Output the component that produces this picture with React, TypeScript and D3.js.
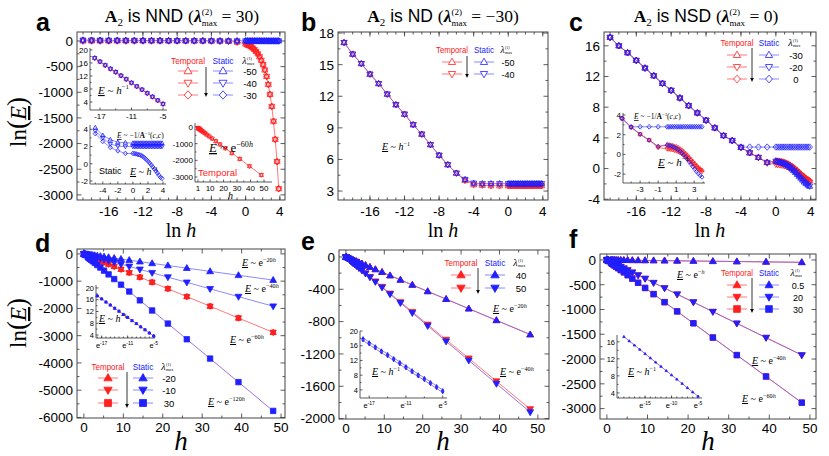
import React from "react";
import * as d3 from "d3";

// ---------- data ----------
const LN_H_FINE = [-19, -18, -17, -16, -15, -14, -13, -12, -11, -10, -9, -8, -7, -6, -5, -4, -3, -2, -1];
const LN_H_GRID = [0, 0.2, 0.41, 0.61, 0.81, 1.02, 1.22, 1.43, 1.63, 1.83, 2.04, 2.24, 2.45, 2.65, 2.85, 3.06, 3.26, 3.46, 3.67, 3.87];
const LN_H = [...LN_H_FINE, ...LN_H_GRID];
const H_VALUES = [0.02, 0.05, 0.14, 0.37, 1, 1.23, 1.5, 1.84, 2.26, 2.77, 3.4, 4.17, 5.11, 6.26, 7.68, 9.41, 11.5, 14.2, 17.3, 21.3, 26.1, 32.0, 39.2, 48.0];

// panel a
const A_STATIC_UP = [17.1, 16.0, 15.1, 14.1, 13.2, 12.2, 11.2, 10.3, 9.3, 8.4, 7.4, 6.4, 5.5, 4.7, 4.2, 3.3, 2.8, 2.5, 2.45,
  2.4, 2.4, 2.4, 2.4, 2.4, 2.4, 2.4, 2.4, 2.4, 2.4, 2.4, 2.4, 2.4, 2.4, 2.4, 2.4, 2.4, 2.4, 2.4, 2.4];
const A_STATIC_DOWN = [17.1, 16.0, 15.1, 14.1, 13.2, 12.2, 11.2, 10.3, 9.3, 8.4, 7.4, 6.4, 5.5, 4.7, 3.8, 3.0, 2.3, 2.05, 2.0,
  2.0, 2.0, 2.0, 2.0, 2.0, 2.0, 2.0, 2.0, 2.0, 2.0, 2.0, 2.0, 2.0, 2.0, 2.0, 2.0, 2.0, 2.0, 2.0, 2.0];
const A_STATIC_DIAMOND = [17.1, 16.0, 15.1, 14.1, 13.2, 12.2, 11.2, 10.3, 9.3, 8.4, 7.4, 6.4, 5.5, 4.7, 3.5, 2.6, 1.9, 1.5, 1.2,
  1.2, 1.18, 1.15, 1.1, 1.05, 1.0, 0.9, 0.78, 0.62, 0.45, 0.27, 0.07, -0.14, -0.37, -0.6, -0.84, -1.08, -1.33, -1.58, -1.7];
const A_TEMPORAL = [0, 0, 0, 0, 0, 0, 0, 0, 0, 0, 0, 0, 0, 0, 0, -1, -3, -8, -22,
  -60, -74, -90, -110, -136, -166, -204, -250, -307, -376, -461, -565, -692, -849, -1041, -1276, -1565, -1918, -2352, -2880];
const A_INSET_LN_H = [-18, -17, -16, -15, -14, -13, -12, -11, -10, -9, -8, -7, -6, -5];
const A_INSET_E = [17.5, 16.4, 15.3, 14.2, 13.2, 12.1, 11.0, 9.9, 8.8, 7.8, 6.7, 5.6, 4.5, 3.4];

// panel b
const B_STATIC = [17.1, 16.0, 15.1, 14.1, 13.2, 12.2, 11.2, 10.3, 9.3, 8.4, 7.4, 6.4, 5.5, 4.7, 4.1, 3.75, 3.7, 3.7, 3.7,
  3.7, 3.7, 3.7, 3.7, 3.7, 3.7, 3.7, 3.7, 3.7, 3.7, 3.7, 3.7, 3.7, 3.7, 3.7, 3.7, 3.7, 3.7, 3.7, 3.7];
const B_TEMPORAL = [17.1, 16.0, 15.1, 14.1, 13.2, 12.2, 11.2, 10.3, 9.3, 8.4, 7.4, 6.4, 5.5, 4.7, 4.0, 3.6, 3.55, 3.5, 3.5,
  3.5, 3.5, 3.5, 3.5, 3.5, 3.5, 3.5, 3.5, 3.5, 3.5, 3.5, 3.5, 3.5, 3.5, 3.5, 3.5, 3.5, 3.5, 3.5, 3.5];

// panel c
const C_STATIC_TRI = [17.1, 16.0, 15.1, 14.1, 13.1, 12.1, 11.1, 10.2, 9.2, 8.2, 7.25, 6.3, 5.3, 4.3, 3.65, 2.76, 2.05, 1.45, 0.8,
  0.95, 0.9, 0.85, 0.78, 0.7, 0.6, 0.48, 0.33, 0.15, -0.05, -0.27, -0.5, -0.75, -1.0, -1.25, -1.5, -1.75, -1.95, -2.15, -2.3];
const C_STATIC_DIAMOND = [17.1, 16.0, 15.1, 14.1, 13.1, 12.1, 11.1, 10.2, 9.2, 8.2, 7.25, 6.3, 5.3, 4.3, 3.65, 2.8, 2.8, 2.8, 2.8,
  2.8, 2.8, 2.8, 2.8, 2.8, 2.8, 2.8, 2.8, 2.8, 2.8, 2.8, 2.8, 2.8, 2.8, 2.8, 2.8, 2.8, 2.8, 2.8, 2.8];
const C_TEMPORAL_UP = [17.1, 16.0, 15.1, 14.1, 13.1, 12.1, 11.1, 10.2, 9.2, 8.2, 7.25, 6.3, 5.3, 4.3, 3.65, 2.76, 2.05, 1.45, 0.8,
  1.0, 0.97, 0.94, 0.9, 0.85, 0.78, 0.7, 0.58, 0.45, 0.3, 0.12, -0.07, -0.27, -0.48, -0.7, -0.9, -1.1, -1.3, -1.45, -1.6];
const C_TEMPORAL_DOWN = [17.1, 16.0, 15.1, 14.1, 13.1, 12.1, 11.1, 10.2, 9.2, 8.2, 7.25, 6.3, 5.3, 4.3, 3.65, 2.76, 2.05, 1.45, 0.7,
  0.55, 0.53, 0.5, 0.46, 0.41, 0.35, 0.27, 0.17, 0.05, -0.08, -0.23, -0.4, -0.58, -0.77, -0.96, -1.15, -1.33, -1.5, -1.62, -1.75];

// panel d
const D_STATIC_UP = [-0.4, -1, -3, -7, -20, -25, -30, -37, -45, -55, -68, -83, -102, -125, -154, -188, -230, -284, -346, -426, -522, -640, -784, -960];
const D_STATIC_DOWN = [-0.8, -2, -6, -15, -40, -49, -60, -74, -90, -111, -136, -167, -204, -250, -307, -376, -460, -568, -692, -852, -1044, -1280, -1568, -1920];
const D_STATIC_SQUARE = [-2.4, -6, -17, -44, -120, -148, -180, -221, -271, -332, -408, -500, -613, -751, -922, -1129, -1380, -1704, -2076, -2556, -3132, -3840, -4704, -5760];
const D_TEMPORAL = [-1.2, -3, -8, -22, -60, -74, -90, -110, -136, -166, -204, -250, -307, -376, -461, -565, -690, -852, -1038, -1278, -1566, -1920, -2352, -2880];
const INSET_LN_H = [-18, -17, -16, -15, -14, -13, -12, -11, -10, -9, -8, -7, -6, -5];
const D_INSET_E = [17.3, 16.3, 15.2, 14.2, 13.1, 12.1, 11.0, 10.0, 8.9, 7.9, 6.8, 5.8, 4.7, 3.7];

// panel e
const E_STATIC_UP = [-0.4, -1, -3, -7, -20, -25, -30, -37, -45, -55, -68, -83, -102, -125, -154, -188, -230, -284, -346, -426, -522, -640, -784, -960];
const E_STATIC_DOWN = [-0.8, -2, -6, -15, -40, -49, -60, -74, -90, -111, -136, -167, -204, -250, -307, -376, -460, -568, -692, -852, -1044, -1280, -1568, -1920];
const E_TEMPORAL_DOWN = [-0.8, -2, -6, -15, -39, -48, -59, -73, -88, -109, -133, -164, -200, -245, -301, -368, -451, -557, -678, -835, -1023, -1254, -1537, -1882];
const E_INSET_UPPER = [18.1, 17.0, 15.9, 14.8, 13.8, 12.7, 11.6, 10.5, 9.4, 8.3, 7.3, 6.2, 5.1, 4.0];
const E_INSET_LOWER = [17.4, 16.3, 15.2, 14.1, 13.1, 12.0, 10.9, 9.8, 8.7, 7.6, 6.6, 5.5, 4.4, 3.3];

// panel f
const F_STATIC_UP = [-0.02, -0.05, -0.14, -0.37, -1, -1.2, -1.5, -1.8, -2.3, -2.8, -3.4, -4.2, -5.1, -6.3, -7.7, -9.4, -11.5, -14.2, -17.3, -21.3, -26.1, -32, -39.2, -48];
const F_STATIC_DOWN = [-0.8, -2, -6, -15, -40, -49, -60, -74, -90, -111, -136, -167, -204, -250, -307, -376, -460, -568, -692, -852, -1044, -1280, -1568, -1920];
const F_STATIC_SQUARE = [-1.2, -3, -8, -22, -60, -74, -90, -110, -136, -166, -204, -250, -307, -376, -461, -565, -690, -852, -1038, -1278, -1566, -1920, -2352, -2880];
const F_INSET_LN_H = [-19, -18, -17, -16, -15, -14, -13, -12, -11, -10, -9, -8, -7, -6, -5];
const F_INSET_E = [17.2, 16.2, 15.2, 14.2, 13.2, 12.2, 11.2, 10.2, 9.2, 8.2, 7.2, 6.2, 5.2, 4.2, 3.2];

// tick labels
const LN_H_TICKS = [-16, -12, -8, -4, 0, 4];
const H_TICKS = [0, 10, 20, 30, 40, 50];
const A_Y_TICKS = [0, -500, -1000, -1500, -2000, -2500, -3000];
const B_Y_TICKS = [3, 6, 9, 12, 15, 18];
const C_Y_TICKS = [-4, 0, 4, 8, 12, 16];
const D_Y_TICKS = [0, -1000, -2000, -3000, -4000, -5000, -6000];
const E_Y_TICKS = [0, -400, -800, -1200, -1600, -2000];
const F_Y_TICKS = [0, -500, -1000, -1500, -2000, -2500, -3000];

// ---------- styles ----------
const RED = "#ff2020";
const BLUE = "#2020ff";
const RED_LINE = "#ff6a6a";
const BLUE_LINE = "#7d7dff";
const PURPLE = "#9463d6";
const SANS = "'Liberation Sans', Arial, sans-serif";
const SERIF = "'Liberation Serif', 'Times New Roman', serif";

type Shape = "up" | "down" | "diamond" | "square";
type Series = { xs: number[]; ys: number[]; color: string; line?: string; shape: Shape; filled?: boolean; r?: number };

function shapePath(shape: Shape, r: number): string {
  switch (shape) {
    case "up": return `M0,${-r}L${0.95 * r},${0.65 * r}L${-0.95 * r},${0.65 * r}Z`;
    case "down": return `M0,${r}L${0.95 * r},${-0.65 * r}L${-0.95 * r},${-0.65 * r}Z`;
    case "diamond": return `M0,${-r}L${0.9 * r},0L0,${r}L${-0.9 * r},0Z`;
    default: return `M${-0.8 * r},${-0.8 * r}H${0.8 * r}V${0.8 * r}H${-0.8 * r}Z`;
  }
}

interface PlotProps {
  box: [number, number, number, number];
  xDomain: [number, number];
  yDomain: [number, number];
  xTicks: number[];
  yTicks: number[];
  xMinor: number[];
  yMinor: number[];
  series: Series[];
  inset?: boolean;
  fs: number;
  xLabelDy: number;
  xFmt?: (v: number) => React.ReactNode;
}

function Plot(p: PlotProps) {
  const [L, T, R, B] = p.box;
  const x = d3.scaleLinear().domain(p.xDomain).range([L, R]);
  const y = d3.scaleLinear().domain(p.yDomain).range([B, T]);
  const maj = p.inset ? 2.5 : 4.5;
  const mnr = p.inset ? 1.5 : 2.5;
  const d: string[] = [];
  const tx = (v: number, len: number) => {
    const px = x(v);
    d.push(`M${px},${B}v${-len}`);
    if (!p.inset) d.push(`M${px},${T}v${len}`);
  };
  const ty = (v: number, len: number) => {
    const py = y(v);
    d.push(`M${L},${py}h${len}`);
    if (!p.inset) d.push(`M${R},${py}h${-len}`);
  };
  p.xTicks.forEach((v) => tx(v, maj));
  p.xMinor.forEach((v) => tx(v, mnr));
  p.yTicks.forEach((v) => ty(v, maj));
  p.yMinor.forEach((v) => ty(v, mnr));
  const line = d3.line();
  return (
    <g>
      {p.inset ? (
        <path d={`M${L},${T}V${B}H${R}`} fill="none" stroke="#333" strokeWidth={0.8} />
      ) : (
        <rect x={L} y={T} width={R - L} height={B - T} fill="none" stroke="#444" strokeWidth={1} />
      )}
      <path d={d.join("")} stroke="#333" strokeWidth={0.8} fill="none" />
      {p.series.map((s, i) =>
        s.line ? (
          <path key={"l" + i}
            d={line(s.xs.map((v, j) => [x(v), y(s.ys[j])] as [number, number])) || ""}
            fill="none" stroke={s.line} strokeWidth={0.9} />
        ) : null
      )}
      {p.series.map((s, i) => (
        <g key={"m" + i}>
          {s.xs.map((v, j) => (
            <path key={j} transform={`translate(${x(v)},${y(s.ys[j])})`} d={shapePath(s.shape, s.r ?? 3.2)}
              fill={s.filled ? s.color : "none"} stroke={s.color} strokeWidth={0.8} />
          ))}
        </g>
      ))}
      {p.xTicks.map((v) => (
        <text key={"xt" + v} x={x(v)} y={B + p.xLabelDy} textAnchor="middle" fontSize={p.fs}>
          {p.xFmt ? p.xFmt(v) : String(v)}
        </text>
      ))}
      {p.yTicks.map((v) => (
        <text key={"yt" + v} x={L - (p.inset ? 2 : 4)} y={y(v)} dy="0.36em" textAnchor="end" fontSize={p.fs}>
          {String(v)}
        </text>
      ))}
    </g>
  );
}

function Ann({ x, y, fs, base, exp, hExp }: { x: number; y: number; fs: number; base: string; exp: string; hExp?: boolean }) {
  return (
    <text x={x} y={y} fontFamily={SERIF} fontSize={fs}>
      <tspan fontStyle="italic" textDecoration="underline">E</tspan>
      <tspan> ~ </tspan>
      <tspan fontStyle={base === "h" ? "italic" : "normal"}>{base}</tspan>
      <tspan dy={-fs * 0.42} fontSize={fs * 0.62}>{exp}</tspan>
      {hExp ? <tspan fontSize={fs * 0.62} fontStyle="italic">h</tspan> : null}
    </text>
  );
}

function AnnInv({ x, y, fs }: { x: number; y: number; fs: number }) {
  return (
    <text x={x} y={y} fontFamily={SERIF} fontSize={fs}>
      <tspan fontStyle="italic" textDecoration="underline">E</tspan>
      <tspan> ~ −1/</tspan>
      <tspan fontWeight="bold">A</tspan>
      <tspan dy={-fs * 0.4} fontSize={fs * 0.65}>−1</tspan>
      <tspan dy={fs * 0.4}>(</tspan>
      <tspan fontStyle="italic">c</tspan>
      <tspan>,</tspan>
      <tspan fontStyle="italic">c</tspan>
      <tspan>)</tspan>
    </text>
  );
}

interface LegendProps {
  head: number; red: number; blue: number; lam: number; rows: number[]; half: number;
  shapes: Shape[]; values: string[]; filled: boolean; fs: number; arrow: [number, number, number]; r: number; tw: number;
}

function Legend(p: LegendProps) {
  return (
    <g fontSize={p.fs}>
      <text x={p.red} y={p.head} dy="0.36em" textAnchor="middle" fill={RED}
        textLength={p.tw} lengthAdjust="spacingAndGlyphs">Temporal</text>
      <text x={p.blue} y={p.head} dy="0.36em" textAnchor="middle" fill={BLUE}
        textLength={p.tw * 0.62} lengthAdjust="spacingAndGlyphs">Static</text>
      <text x={p.lam - 0.5} y={p.head + p.fs * 0.35} textAnchor="end" fontFamily={SERIF} fontStyle="italic" fontSize={p.fs * 1.05}>λ</text>
      <text x={p.lam} y={p.head - 1.5} fontFamily={SERIF} fontSize={p.fs * 0.45}>(1)</text>
      <text x={p.lam} y={p.head + p.fs * 0.4} fontFamily={SERIF} fontSize={p.fs * 0.45}>max</text>
      {p.shapes.map((sh, i) => (
        <g key={i}>
          <line x1={p.red - p.half} x2={p.red + p.half} y1={p.rows[i]} y2={p.rows[i]} stroke={RED_LINE} strokeWidth={0.9} />
          <path transform={`translate(${p.red},${p.rows[i]})`} d={shapePath(sh, p.r)} fill={p.filled ? RED : "#fff"} stroke={RED} strokeWidth={0.8} />
          <line x1={p.blue - p.half} x2={p.blue + p.half} y1={p.rows[i]} y2={p.rows[i]} stroke={BLUE_LINE} strokeWidth={0.9} />
          <path transform={`translate(${p.blue},${p.rows[i]})`} d={shapePath(sh, p.r)} fill={p.filled ? BLUE : "#fff"} stroke={BLUE} strokeWidth={0.8} />
          <text x={p.lam + 3} y={p.rows[i] + 1} dy="0.36em" textAnchor="middle">{p.values[i]}</text>
        </g>
      ))}
      <line x1={p.arrow[0]} x2={p.arrow[0]} y1={p.arrow[1]} y2={p.arrow[2] - 3} stroke="#000" strokeWidth={0.8} />
      <path d={`M${p.arrow[0] - 1.8},${p.arrow[2] - 4}L${p.arrow[0] + 1.8},${p.arrow[2] - 4}L${p.arrow[0]},${p.arrow[2]}Z`} fill="#000" />
    </g>
  );
}

function Title({ cx, desc, val }: { cx: number; desc: string; val: string }) {
  return (
    <text x={cx} y={22} textAnchor="middle" fontSize={17.5}>
      <tspan fontFamily={SERIF} fontWeight="bold">A</tspan>
      <tspan fontFamily={SERIF} fontSize={11} dy={4}>2</tspan>
      <tspan fontFamily={SANS} dy={-4}>{` is ${desc} `}</tspan>
      <tspan fontFamily={SERIF}>(</tspan>
      <tspan fontFamily={SERIF} fontStyle="italic" fontWeight="bold">λ</tspan>
      <tspan fontFamily={SERIF} fontSize={9} dy={-7}>(2)</tspan>
      <tspan fontFamily={SERIF} fontSize={9} dx={-10.5} dy={11}>max</tspan>
      <tspan fontFamily={SERIF} dy={-4}>{` = ${val})`}</tspan>
    </text>
  );
}

function YLabel({ cy }: { cy: number }) {
  return (
    <text transform={`translate(26,${cy}) rotate(-90)`} textAnchor="middle" fontFamily={SERIF} fontSize={23}>
      ln<tspan fontSize={27}>(</tspan><tspan fontStyle="italic" textDecoration="underline">E</tspan><tspan fontSize={27}>)</tspan>
    </text>
  );
}

const LnH = ({ cx }: { cx: number }) => (
  <text x={cx} y={237} textAnchor="middle" fontFamily={SERIF} fontSize={20}>ln <tspan fontStyle="italic">h</tspan></text>
);
const HLab = ({ cx }: { cx: number }) => (
  <text x={cx} y={450} textAnchor="middle" fontFamily={SERIF} fontStyle="italic" fontSize={27}>h</text>
);
const Letter = ({ x, y, t }: { x: number; y: number; t: string }) => (
  <text x={x} y={y} fontFamily={SANS} fontWeight="bold" fontSize={25}>{t}</text>
);

const fmtE = (v: number) => (
  <>
    <tspan>e</tspan>
    <tspan dy={-3} fontSize={5}>{String(v)}</tspan>
  </>
);

const st = (xs: number[], ys: number[], shape: Shape, color: string, line?: string, filled = false, r = 3.2): Series =>
  ({ xs, ys, shape, color, line, filled, r });

export default function App() {
  const lnMinor = d3.range(-19, 5, 1);
  const hMinor = d3.range(5, 55, 10);

  const aSeries = [
    st(LN_H, A_TEMPORAL, "up", RED, RED_LINE), st(LN_H, A_TEMPORAL, "down", RED), st(LN_H, A_TEMPORAL, "diamond", RED),
    st(LN_H, A_STATIC_UP, "up", BLUE, BLUE_LINE), st(LN_H, A_STATIC_DOWN, "down", BLUE), st(LN_H, A_STATIC_DIAMOND, "diamond", BLUE),
  ];
  const lnSub = LN_H.slice(14);
  const a2Series = [
    st(lnSub, A_STATIC_UP.slice(14), "up", BLUE, BLUE_LINE, false, 2.3),
    st(lnSub, A_STATIC_DOWN.slice(14), "down", BLUE, BLUE_LINE, false, 2.3),
    st(lnSub, A_STATIC_DIAMOND.slice(14), "diamond", BLUE, BLUE_LINE, false, 2.3),
  ];
  const a1Series = [
    st(A_INSET_LN_H, A_INSET_E, "up", RED, RED_LINE, false, 2.4),
    st(A_INSET_LN_H, A_INSET_E, "down", BLUE, undefined, false, 2.4),
    st(A_INSET_LN_H, A_INSET_E, "diamond", BLUE, undefined, false, 2.4),
  ];
  const a3Series = [
    st(H_VALUES.slice(4), A_TEMPORAL.slice(19), "up", RED, RED_LINE, false, 2.3),
    st(H_VALUES.slice(4), A_TEMPORAL.slice(19), "down", RED, undefined, false, 2.3),
  ];
  const bSeries = [
    st(LN_H, B_TEMPORAL, "up", RED, RED_LINE), st(LN_H, B_TEMPORAL, "down", RED),
    st(LN_H, B_STATIC, "up", BLUE, PURPLE), st(LN_H, B_STATIC, "down", BLUE),
  ];
  const cSeries = [
    st(LN_H, C_TEMPORAL_UP, "up", RED, RED_LINE), st(LN_H, C_TEMPORAL_DOWN, "down", RED, RED_LINE), st(LN_H, C_TEMPORAL_UP, "diamond", RED),
    st(LN_H, C_STATIC_DIAMOND, "diamond", BLUE, BLUE_LINE),
    st(LN_H, C_STATIC_TRI, "up", BLUE, PURPLE), st(LN_H, C_STATIC_TRI, "down", BLUE),
  ];
  const cInset = [
    st(lnSub, C_TEMPORAL_UP.slice(14), "up", RED, RED_LINE, false, 2.2),
    st(lnSub, C_TEMPORAL_DOWN.slice(14), "down", RED, RED_LINE, false, 2.2),
    st(lnSub, C_STATIC_DIAMOND.slice(14), "diamond", BLUE, BLUE_LINE, false, 2.4),
    st(lnSub, C_STATIC_TRI.slice(14), "diamond", BLUE, PURPLE, false, 2.2),
  ];
  const dSeries = [
    st(H_VALUES, D_TEMPORAL, "up", RED, RED_LINE, true, 3.3), st(H_VALUES, D_TEMPORAL, "down", RED, undefined, true, 3.3),
    st(H_VALUES, D_TEMPORAL, "square", RED, undefined, true, 2.6),
    st(H_VALUES, D_STATIC_UP, "up", BLUE, BLUE_LINE, true, 3.6),
    st(H_VALUES, D_STATIC_DOWN, "down", BLUE, BLUE_LINE, true, 3.6),
    st(H_VALUES, D_STATIC_SQUARE, "square", BLUE, PURPLE, true, 3.4),
  ];
  const eSeries = [
    st(H_VALUES, E_STATIC_UP, "up", RED, RED_LINE, true, 3.6), st(H_VALUES, E_TEMPORAL_DOWN, "down", RED, RED_LINE, true, 3.6),
    st(H_VALUES, E_STATIC_UP, "up", BLUE, PURPLE, true, 3.6), st(H_VALUES, E_STATIC_DOWN, "down", BLUE, PURPLE, true, 3.6),
  ];
  const fSeries = [
    st(H_VALUES, F_STATIC_UP, "up", RED, RED_LINE, true, 3.6), st(H_VALUES, F_STATIC_DOWN, "down", RED, RED_LINE, true, 3.6),
    st(H_VALUES, F_STATIC_SQUARE, "square", RED, RED_LINE, true, 3.4),
    st(H_VALUES, F_STATIC_UP, "up", BLUE, PURPLE, true, 3.6), st(H_VALUES, F_STATIC_DOWN, "down", BLUE, PURPLE, true, 3.6),
    st(H_VALUES, F_STATIC_SQUARE, "square", BLUE, PURPLE, true, 3.4),
  ];

  return (
    <svg width={829} height={456} style={{ position: "absolute", left: 0, top: 0, background: "#fff" }} fontFamily={SANS}>
      {/* ---- panel a ---- */}
      <Letter x={36} y={31} t="a" />
      <Title cx={182} desc="NND" val="30" />
      <Plot box={[77, 32, 285, 200]} xDomain={[-19.7, 4.6]} yDomain={[-3100, 175]} xTicks={LN_H_TICKS} xMinor={lnMinor}
        yTicks={A_Y_TICKS} yMinor={d3.range(-250, -3100, -500)} series={aSeries} fs={13.5} xLabelDy={16} />
      <Plot box={[90, 48, 167, 110]} xDomain={[-18.9, -4.24]} yDomain={[1.54, 20.6]} xTicks={[-17, -11, -5]} xMinor={[-14, -8]}
        yTicks={[4, 8, 12, 16, 20]} yMinor={[6, 10, 14, 18]} series={a1Series} inset fs={8} xLabelDy={9} />
      <Ann x={98} y={94} fs={11} base="h" exp="−1" />
      <Plot box={[90, 125, 166, 184]} xDomain={[-5.7, 4.4]} yDomain={[-2.35, 4.5]} xTicks={[-4, -2, 0, 2, 4]} xMinor={[-5, -3, -1, 1, 3]}
        yTicks={[-2, 0, 2, 4]} yMinor={[-1, 1, 3]} series={a2Series} inset fs={8} xLabelDy={9} />
      <AnnInv x={117} y={138} fs={7.5} />
      <text x={99} y={174} fontSize={9}>Static</text>
      <Ann x={130} y={175} fs={10} base="h" exp="−1" />
      <Plot box={[195, 123, 272, 182]} xDomain={[-1.2, 55.9]} yDomain={[-3300, 240]} xTicks={[1, 10, 20, 30, 40, 50]} xMinor={[5, 15, 25, 35, 45]}
        yTicks={[0, -1000, -2000, -3000]} yMinor={[-500, -1500, -2500]} series={a3Series} inset fs={8} xLabelDy={9} />
      <Ann x={209} y={152} fs={13} base="e" exp="−60" hExp />
      <text x={198} y={176} fontSize={9.5} fill={RED}>Temporal</text>
      <text x={228} y={199} fontFamily={SERIF} fontStyle="italic" fontSize={10}>h</text>
      <Legend head={61} red={188} blue={223} lam={247} rows={[71, 83, 95]} half={10} shapes={["up", "down", "diamond"]}
        values={["-50", "-40", "-30"]} filled={false} fs={9.5} arrow={[206, 67, 97]} r={4.2} tw={34} />
      <YLabel cy={122} />
      <LnH cx={181} />

      {/* ---- panel b ---- */}
      <Letter x={301} y={31} t="b" />
      <Title cx={443} desc="ND" val="−30" />
      <Plot box={[338, 32, 548, 200]} xDomain={[-19.7, 4.6]} yDomain={[2.15, 18.1]} xTicks={LN_H_TICKS} xMinor={lnMinor}
        yTicks={B_Y_TICKS} yMinor={[4.5, 7.5, 10.5, 13.5, 16.5]} series={bSeries} fs={13.5} xLabelDy={16} />
      <Ann x={382} y={150} fs={10} base="h" exp="−1" />
      <Legend head={50} red={452} blue={484} lam={505} rows={[62, 74]} half={10} shapes={["up", "down"]}
        values={["-50", "-40"]} filled={false} fs={9} arrow={[467, 56, 78]} r={3.8} tw={32} />
      <LnH cx={443} />

      {/* ---- panel c ---- */}
      <Letter x={569} y={31} t="c" />
      <Title cx={706} desc="NSD" val="0" />
      <Plot box={[604, 32, 816, 200]} xDomain={[-19.7, 4.6]} yDomain={[-4.1, 17.8]} xTicks={LN_H_TICKS} xMinor={lnMinor}
        yTicks={C_Y_TICKS} yMinor={[-2, 2, 6, 10, 14]} series={cSeries} fs={13.5} xLabelDy={16} />
      <Plot box={[623, 113, 705, 183]} xDomain={[-4.9, 4.2]} yDomain={[-2.9, 4.2]} xTicks={[-3, -1, 1, 3]} xMinor={[-4, -2, 0, 2, 4]}
        yTicks={[-2, 0, 2, 4]} yMinor={[-1, 1, 3]} series={cInset} inset fs={8} xLabelDy={9} />
      <AnnInv x={634} y={119} fs={7.5} />
      <Ann x={658} y={166} fs={11} base="h" exp="−1" />
      <Legend head={43} red={737} blue={769} lam={793} rows={[55, 67, 79]} half={10} shapes={["up", "down", "diamond"]}
        values={["-30", "-20", "0"]} filled={false} fs={9.5} arrow={[752, 48, 82]} r={3.8} tw={33} />
      <LnH cx={710} />

      {/* ---- panel d ---- */}
      <Letter x={35} y={252} t="d" />
      <Plot box={[77, 249, 285, 418]} xDomain={[-1.75, 51]} yDomain={[-6020, 180]} xTicks={H_TICKS} xMinor={hMinor}
        yTicks={D_Y_TICKS} yMinor={d3.range(-500, -6100, -1000)} series={dSeries} fs={13.5} xLabelDy={14} />
      <Plot box={[96, 285, 155, 338]} xDomain={[-18.3, -4.7]} yDomain={[3, 21]} xTicks={[-17, -11, -5]} xMinor={d3.range(-18, -4, 1)}
        yTicks={[4, 8, 12, 16, 20]} yMinor={[6, 10, 14, 18]} inset fs={7.5} xLabelDy={10} xFmt={fmtE}
        series={[st(INSET_LN_H, D_INSET_E, "up", BLUE, RED_LINE, true, 1.6), st(INSET_LN_H, D_INSET_E, "down", BLUE, undefined, true, 1.4)]} />
      <Ann x={99} y={322} fs={10} base="h" exp="−1" />
      <Ann x={242} y={266} fs={10} base="e" exp="−20" hExp />
      <Ann x={245} y={292} fs={10} base="e" exp="−40" hExp />
      <Ann x={230} y={343} fs={10} base="e" exp="−60" hExp />
      <Ann x={208} y={405} fs={10} base="e" exp="−120" hExp />
      <Legend head={367} red={108} blue={143} lam={166} rows={[378, 390, 403]} half={10} shapes={["up", "down", "square"]}
        values={["-20", "-10", "30"]} filled fs={9.5} arrow={[127, 372, 408]} r={4.4} tw={33} />
      <YLabel cy={323} />
      <HLab cx={181} />

      {/* ---- panel e ---- */}
      <Letter x={301} y={250} t="e" />
      <Plot box={[339, 250, 549, 419]} xDomain={[-1.8, 52.9]} yDomain={[-2005, 86]} xTicks={H_TICKS} xMinor={hMinor}
        yTicks={E_Y_TICKS} yMinor={d3.range(-200, -2100, -400)} series={eSeries} fs={13.5} xLabelDy={14} />
      <Plot box={[360, 331, 447, 398]} xDomain={[-18.5, -4.3]} yDomain={[1.8, 20]} xTicks={[-17, -11, -5]} xMinor={[-14, -8]}
        yTicks={[4, 8, 12, 16, 20]} yMinor={[6, 10, 14, 18]} inset fs={7.5} xLabelDy={10} xFmt={fmtE}
        series={[st(INSET_LN_H, E_INSET_UPPER, "up", BLUE, BLUE_LINE, true, 1.4), st(INSET_LN_H, E_INSET_LOWER, "down", BLUE, PURPLE, true, 1.4)]} />
      <Ann x={372} y={375} fs={10} base="h" exp="−1" />
      <Ann x={493} y={312} fs={10} base="e" exp="−20" hExp />
      <Ann x={500} y={375} fs={10} base="e" exp="−40" hExp />
      <Legend head={263} red={461} blue={495} lam={518} rows={[275, 288]} half={10} shapes={["up", "down"]}
        values={["40", "50"]} filled fs={9.5} arrow={[478, 268, 294]} r={4.4} tw={33} />
      <HLab cx={443} />

      {/* ---- panel f ---- */}
      <Letter x={569} y={248} t="f" />
      <Plot box={[600, 254, 816, 419]} xDomain={[-1.7, 51.5]} yDomain={[-3210, 120]} xTicks={H_TICKS} xMinor={hMinor}
        yTicks={F_Y_TICKS} yMinor={d3.range(-250, -3100, -500)} series={fSeries} fs={13.5} xLabelDy={14} />
      <Plot box={[617, 335, 702, 398]} xDomain={[-20.3, -4.25]} yDomain={[2.8, 17.6]} xTicks={[-15, -10, -5]} xMinor={d3.range(-20, -4, 1)}
        yTicks={[4, 8, 12, 16]} yMinor={[6, 10, 14]} inset fs={7.5} xLabelDy={10} xFmt={fmtE}
        series={[st(F_INSET_LN_H, F_INSET_E, "up", BLUE, PURPLE, true, 1.3)]} />
      <Ann x={628} y={375} fs={10} base="h" exp="−1" />
      <Ann x={677} y={278} fs={10} base="e" exp="−" hExp />
      <Ann x={752} y={364} fs={10} base="e" exp="−40" hExp />
      <Ann x={742} y={402} fs={10} base="e" exp="−60" hExp />
      <Legend head={273} red={737} blue={769} lam={795} rows={[285, 297, 309]} half={10} shapes={["up", "down", "square"]}
        values={["0.5", "20", "30"]} filled fs={9} arrow={[752, 278, 313]} r={4.2} tw={32} />
      <HLab cx={708} />
    </svg>
  );
}
